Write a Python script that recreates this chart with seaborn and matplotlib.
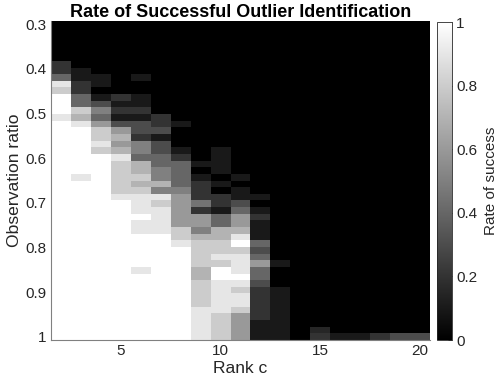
import numpy as np
import pandas as pd
import seaborn as sns
import matplotlib.pyplot as plt

# rank c on x, observation ratio on y (48 rows, 0.3 at top -> 1 at bottom)
ranks = list(range(2, 21))
n_rows = 48
ratio_lo, ratio_hi = 0.3, 1.0
ratio_ticks = [0.3, 0.4, 0.5, 0.6, 0.7, 0.8, 0.9, 1.0]
ratio_labels = ['0.3', '0.4', '0.5', '0.6', '0.7', '0.8', '0.9', '1']
rank_ticks = [5, 10, 15, 20]
cbar_ticks = [0, 0.2, 0.4, 0.6, 0.8, 1]
cbar_labels = ['0', '0.2', '0.4', '0.6', '0.8', '1']

# success rate per rank, listed top row (ratio 0.3) to bottom row (ratio 1)
rank_02 = [0] * 6 + [.2, .2, .4, .9, .8, 1, 1, 1, .9] + [1] * 33
rank_03 = [0] * 7 + [.1, .1, .2, .2, .4, .4, .8, .7, .9] + [1] * 7 + [.9] + [1] * 24
rank_04 = [0] * 8 + [.1, .1, 0, .1, .3, .5, .4, .6, .8, .8, .9, .8] + [1] * 28
rank_05 = [0] * 11 + [.2, .1, .2, .1, .3, .6, .7, .6, .7, .9, .8, .8, .8, .8, .8, .9] + [1] * 21
rank_06 = ([0] * 8 + [.1, 0, 0, .1, .1, .2, .1, .3, .3, .2, .5, .5, .4, .7, .7, .8,
                      .7, .8, .9, .9, .9, 1, .9, .9] + [1] * 5 + [.9] + [1] * 10)
rank_07 = [0] * 14 + [.2, .2, .3, .1, .3, .3, .4, .4, .5, .5, .7, .5, .9, .8, .9, .9, .9, .9] + [1] * 16
rank_08 = [0] * 15 + [.1, 0, 0, 0, .1, .2, .4, .4, .4, .4, .5, .6, .6, .6, .6, .6, .8, .8, .9] + [1] * 14
rank_09 = ([0] * 21 + [.1, 0, .1, .2, .2, .2, .45, .2, .6, .6, .5, .7, .8, .8, .8, .8,
                       .7, .7, .8, .8, .8, .8] + [.9] * 5)
rank_10 = ([0] * 19 + [.1, .1, .1, .1, 0, .1, 0, .2, .2, .1, .4, .4, .7, .7, .8, .8, .9,
                       .8, 1, 1, .9, .9, .9, .9, .9] + [.8] * 4)
rank_11 = ([0] * 23 + [.1, 0, .1, .1, .3, .4, .6, .6, .7, .9, 1, .8, .9, .9, .9, 1, .9,
                       .8, .9, .9, .8] + [.6] * 4)
rank_12 = [0] * 26 + [.1, 0, .1, .2, .1, .1, .1, .4, .3, .4, .6, .4, .4, .3] + [.2] * 5 + [.1] * 3
rank_13 = [0] * 36 + [.1] + [0] * 3 + [.1] * 8
rank_14 = [0] * 48
rank_15 = [0] * 46 + [.15, .2]
rank_16 = [0] * 47 + [.1]
rank_17 = [0] * 47 + [.1]
rank_18 = [0] * 47 + [.2]
rank_19 = [0] * 47 + [.3]
rank_20 = [0] * 47 + [.3]

columns = [rank_02, rank_03, rank_04, rank_05, rank_06, rank_07, rank_08, rank_09, rank_10,
           rank_11, rank_12, rank_13, rank_14, rank_15, rank_16, rank_17, rank_18, rank_19, rank_20]
df = pd.DataFrame(dict(zip(ranks, columns)))

sns.set_style('white')
plt.rcParams['font.family'] = ['Liberation Sans', 'DejaVu Sans']
ink = '#262626'

fig = plt.figure(figsize=(4.98, 3.86), dpi=100)
ax = fig.add_axes([51 / 498, 46 / 386, 379 / 498, 319 / 386])
cax = fig.add_axes([437 / 498, 46 / 386, 15 / 498, 318 / 386])

sns.heatmap(df, ax=ax, cbar_ax=cax, cmap='gray', vmin=0, vmax=1,
            xticklabels=False, yticklabels=False)

# map data values onto heatmap cell coordinates
step = (ratio_hi - ratio_lo) / (n_rows - 1)
ax.set_xticks([r - ranks[0] + 0.5 for r in rank_ticks])
ax.set_xticklabels([str(r) for r in rank_ticks])
ax.set_yticks([(v - ratio_lo) / step + 0.5 for v in ratio_ticks])
ax.set_yticklabels(ratio_labels)
ax.tick_params(direction='in', length=3, width=0.6, color=ink, labelcolor=ink,
               labelsize=11, pad=3, bottom=True, left=True)
for side in ['left', 'bottom']:
    ax.spines[side].set_visible(True)
    ax.spines[side].set_color('#808080')
    ax.spines[side].set_linewidth(0.8)

ax.set_title('Rate of Successful Outlier Identification', fontsize=13, fontweight='bold',
             color='black', pad=3)
ax.set_xlabel('Rank c', fontsize=12.6, color=ink, labelpad=2)
ax.set_ylabel('Observation ratio', fontsize=12.6, color=ink, labelpad=3)

cbar = ax.collections[0].colorbar
cbar.set_ticks(cbar_ticks)
cbar.set_ticklabels(cbar_labels)
cbar.ax.tick_params(direction='in', length=3, width=0.6, color=ink, labelcolor=ink,
                    labelsize=11, pad=3, right=True)
cbar.outline.set_visible(True)
cbar.outline.set_edgecolor(ink)
cbar.outline.set_linewidth(0.6)
cbar.set_label('Rate of success', fontsize=11, color=ink, labelpad=5)

fig.savefig('out.png', dpi=100)
